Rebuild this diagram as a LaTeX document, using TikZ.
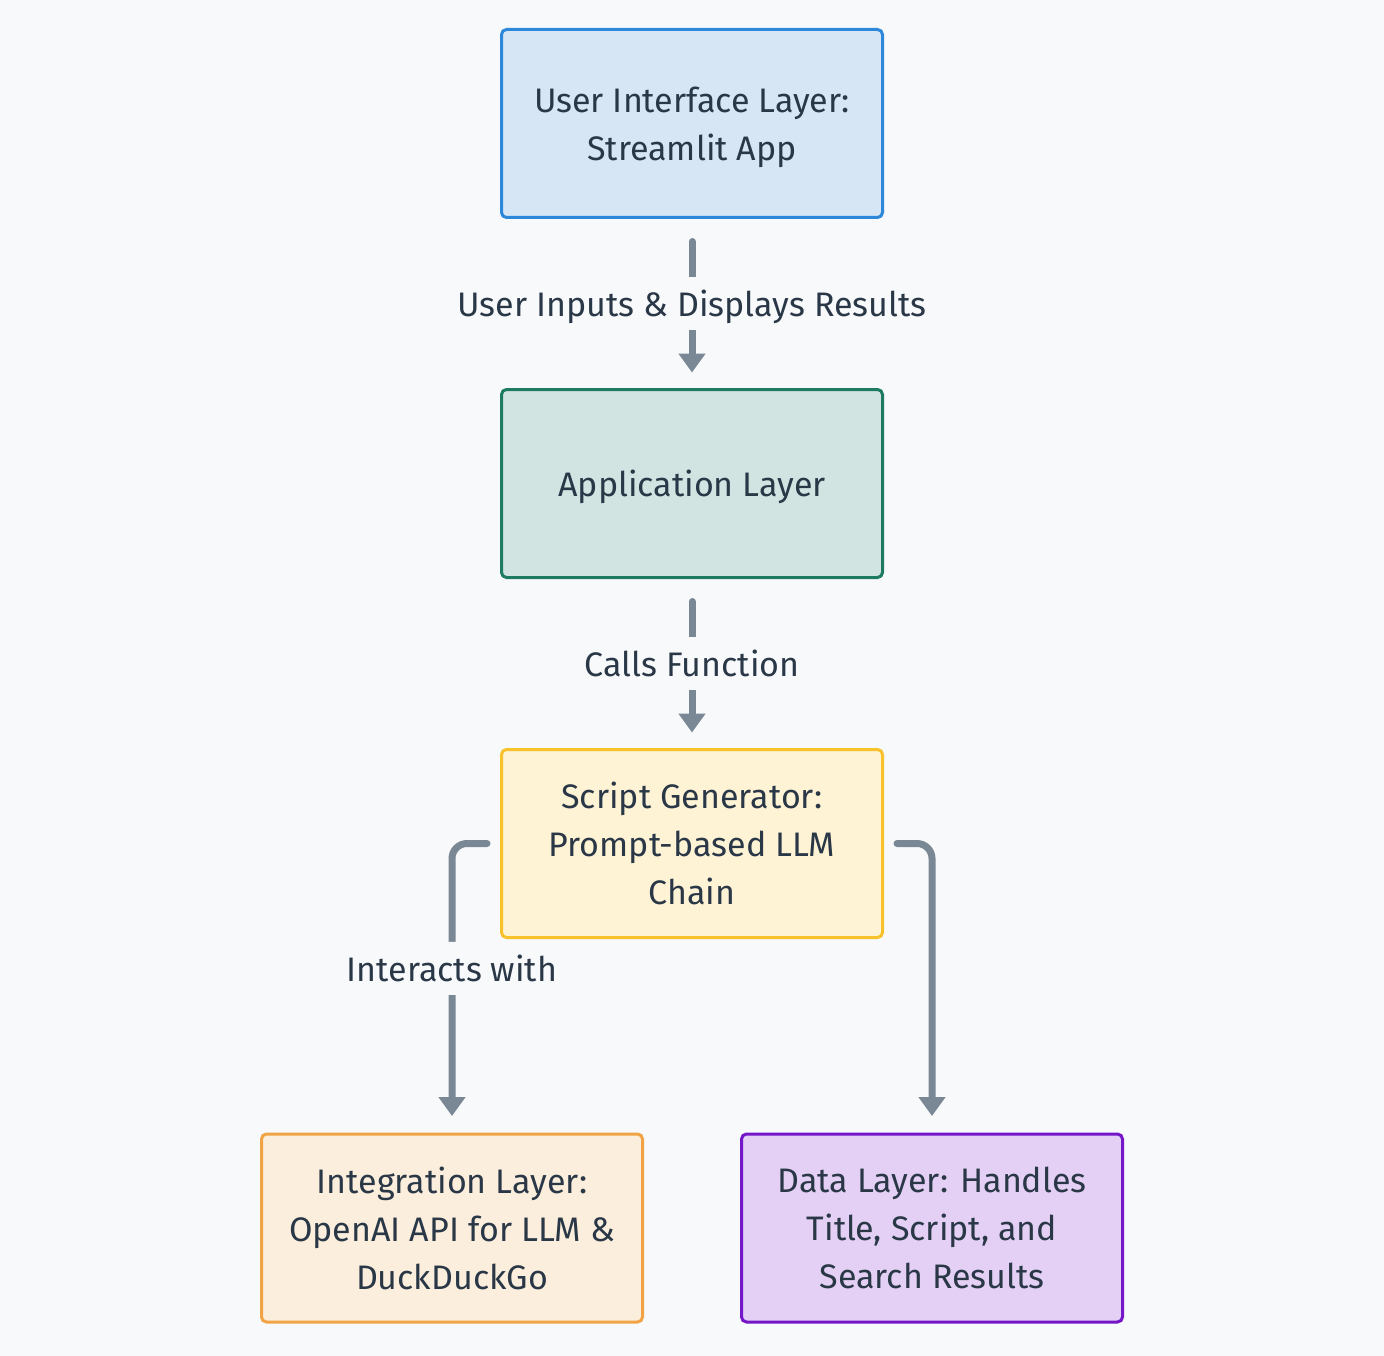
\documentclass[tikz,border=0pt]{standalone}
\usepackage{fontspec}
\setmainfont{Fira Sans}
\usetikzlibrary{arrows.meta}
\definecolor{bg}{HTML}{F8F9FB}
\definecolor{txt}{HTML}{293747}
\definecolor{arrc}{HTML}{7A8896}
\definecolor{uiF}{HTML}{D6E6F5}\definecolor{uiD}{HTML}{2E88DA}
\definecolor{apF}{HTML}{D1E4E2}\definecolor{apD}{HTML}{1F7A64}
\definecolor{scF}{HTML}{FFF3D5}\definecolor{scD}{HTML}{F7C22A}
\definecolor{inF}{HTML}{FCEEDC}\definecolor{inD}{HTML}{F0A445}
\definecolor{daF}{HTML}{E3D0F4}\definecolor{daD}{HTML}{7517C8}
\newcommand\nodepth[1]{\raisebox{0pt}[\height][0pt]{#1}}
\tikzset{
  box/.style={draw, line width=3pt, rounded corners=5pt, minimum width=381pt,
    minimum height=188pt, align=center, text=txt, font=\fontsize{34}{48}\selectfont},
  arr/.style={draw=arrc, line width=7pt, line cap=round,
    -{Triangle[width=26pt,length=19pt]}},
  lbl/.style={fill=bg, text=txt, font=\fontsize{34}{48}\selectfont, inner sep=0pt,
    minimum height=53pt, minimum width=40pt}
}
\begin{document}
\begin{tikzpicture}[x=1pt,y=-1pt]
\fill[bg] (0,0) rectangle (1384,1356);
\useasboundingbox (0,0) rectangle (1384,1356);
\node[box, fill=uiF, draw=uiD] (ui) at (692,123.5) {User Interface Layer:\\\nodepth{Streamlit App}};
\node[box, fill=apF, draw=apD] (app) at (692,483.5) {\nodepth{Application Layer}};
\node[box, fill=scF, draw=scD] (sc) at (692,843.5) {Script Generator:\\Prompt-based LLM\\Chain};
\node[box, fill=inF, draw=inD] (intg) at (452,1228) {Integration Layer:\\OpenAI API for LLM \&\\DuckDuckGo};
\node[box, fill=daF, draw=daD] (data) at (932,1228) {Data Layer: Handles\\Title, Script, and\\Search Results};
\draw[arr, shorten <=22.5pt, shorten >=15.5pt] (ui.south) -- (app.north)
  node[lbl, midway] (l1) {\nodepth{User Inputs \& Displays Results}};
\draw[arr, shorten <=22.5pt, shorten >=15.5pt] (app.south) -- (sc.north)
  node[lbl, midway] (l2) {Calls Function};
\draw[arr, rounded corners=15pt, shorten <=13pt, shorten >=16.5pt] (sc.west) -| (intg.north)
  node[lbl, pos=0.716] (l3) {Interacts with};
\draw[arr, rounded corners=15pt, shorten <=13pt, shorten >=16.5pt] (sc.east) -| (data.north);
\end{tikzpicture}
\end{document}
